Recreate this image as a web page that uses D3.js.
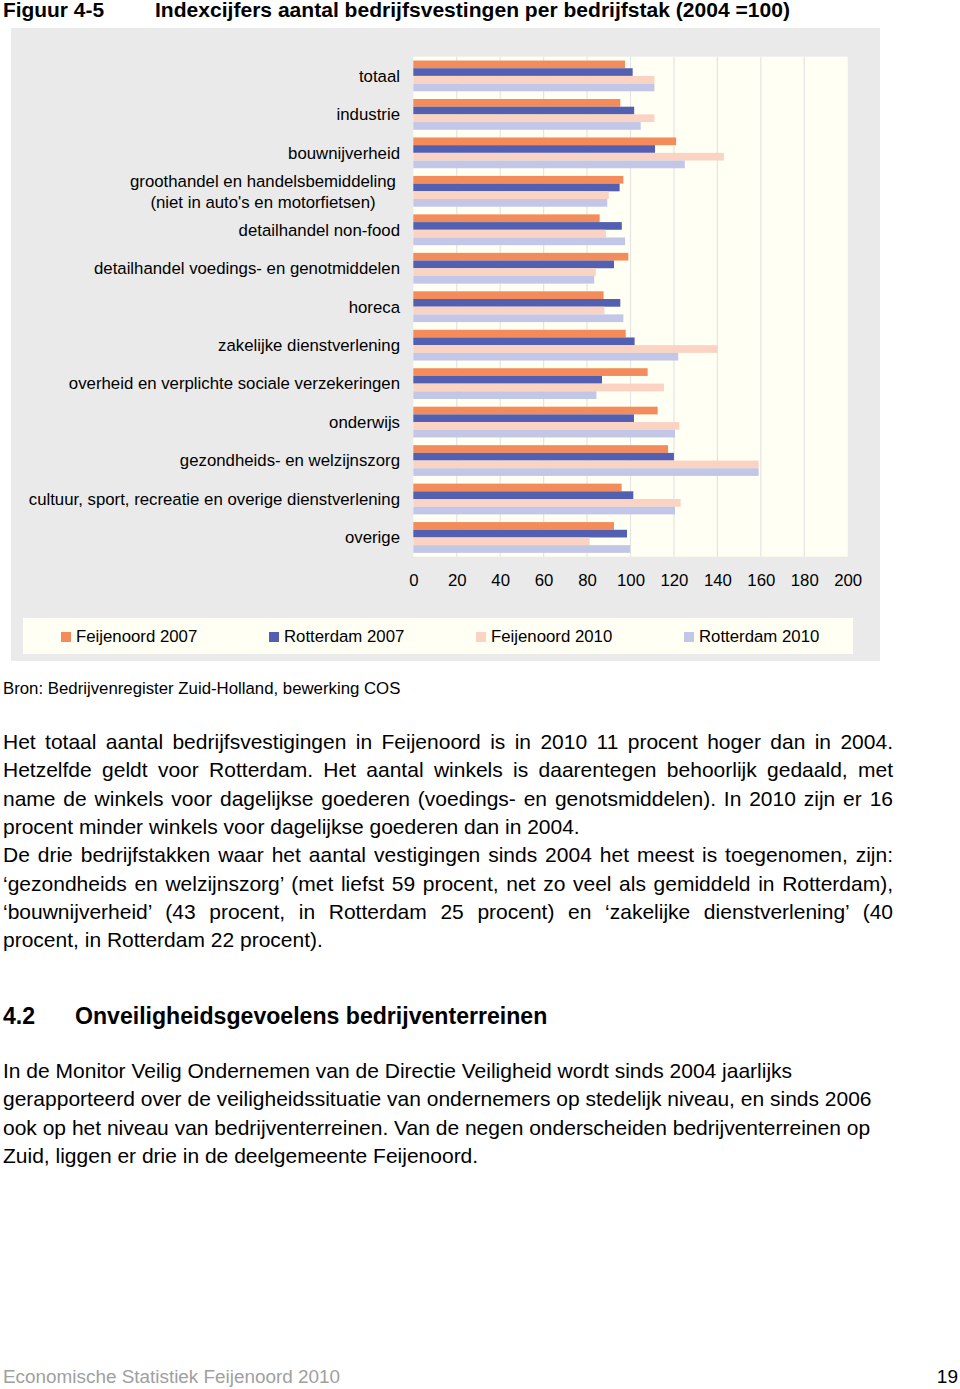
<!DOCTYPE html>
<html><head><meta charset="utf-8">
<script src="https://cdn.jsdelivr.net/npm/d3@7"></script>
<style>
html,body{margin:0;padding:0;background:#fff;}
svg{display:block;font-family:"Liberation Sans",Arial,Helvetica,sans-serif;}
</style></head>
<body><svg id="c" width="960" height="1389"></svg>
<script>
// ---------- data ----------
const categories = [
  "totaal",
  "industrie",
  "bouwnijverheid",
  "groothandel en handelsbemiddeling|(niet in auto's en motorfietsen)",
  "detailhandel non-food",
  "detailhandel voedings- en genotmiddelen",
  "horeca",
  "zakelijke dienstverlening",
  "overheid en verplichte sociale verzekeringen",
  "onderwijs",
  "gezondheids- en welzijnszorg",
  "cultuur, sport, recreatie en overige dienstverlening",
  "overige"
];
const seriesNames = ["Feijenoord 2007","Rotterdam 2007","Feijenoord 2010","Rotterdam 2010"];
const feijenoord2007 = [97.5, 95.3, 121, 96.7, 85.8, 99, 87.6, 97.8, 107.9, 112.5, 117.3, 95.9, 92.4];
const rotterdam2007  = [101, 101.7, 111.3, 95, 96, 92.4, 95.3, 101.9, 86.9, 101.6, 120, 101.3, 98.4];
const feijenoord2010 = [111, 111, 143, 90, 88.7, 84, 88, 140, 115.4, 122.5, 159, 123.1, 81.2];
const rotterdam2010  = [111, 104.7, 125, 89.3, 97.5, 83.3, 96.7, 122, 84.3, 120.5, 159, 120.5, 99.8];
const xTicks = [0,20,40,60,80,100,120,140,160,180,200];

const titleLeft = "Figuur 4-5";
const titleRight = "Indexcijfers aantal bedrijfsvestingen per bedrijfstak (2004 =100)";
const sourceText = "Bron: Bedrijvenregister Zuid-Holland, bewerking COS";
const para1 = [
  ["Het totaal aantal bedrijfsvestigingen in Feijenoord is in 2010 11 procent hoger dan in 2004.", true],
  ["Hetzelfde geldt voor Rotterdam. Het aantal winkels is daarentegen behoorlijk gedaald, met", true],
  ["name de winkels voor dagelijkse goederen (voedings- en genotsmiddelen). In 2010 zijn er 16", true],
  ["procent minder winkels voor dagelijkse goederen dan in 2004.", false],
  ["De drie bedrijfstakken waar het aantal vestigingen sinds 2004 het meest is toegenomen, zijn:", true],
  ["\u2018gezondheids en welzijnszorg\u2019 (met liefst 59 procent, net zo veel als gemiddeld in Rotterdam),", true],
  ["\u2018bouwnijverheid\u2019 (43 procent, in Rotterdam 25 procent) en \u2018zakelijke dienstverlening\u2019 (40", true],
  ["procent, in Rotterdam 22 procent).", false]
];
const headingNum = "4.2";
const headingText = "Onveiligheidsgevoelens bedrijventerreinen";
const para2 = [
  "In de Monitor Veilig Ondernemen van de Directie Veiligheid wordt sinds 2004 jaarlijks",
  "gerapporteerd over de veiligheidssituatie van ondernemers op stedelijk niveau, en sinds 2006",
  "ook op het niveau van bedrijventerreinen. Van de negen onderscheiden bedrijventerreinen op",
  "Zuid, liggen er drie in de deelgemeente Feijenoord."
];
const footerLeft = "Economische Statistiek Feijenoord 2010";
const footerRight = "19";

// ---------- styling ----------
const colors = ["#F38B5B","#5360B1","#FAD3C3","#C2C6E7"];
const chartFs = 16.8;
const svg = d3.select("#c");
svg.append("rect").attr("width",960).attr("height",1389).attr("fill","#fff");

// title
svg.append("text").attr("x",3).attr("y",17).attr("font-weight","bold").attr("font-size",20)
  .attr("textLength",101).attr("lengthAdjust","spacingAndGlyphs").text(titleLeft);
svg.append("text").attr("x",155).attr("y",17).attr("font-weight","bold").attr("font-size",20)
  .attr("textLength",635).attr("lengthAdjust","spacingAndGlyphs").text(titleRight);

// chart frame
svg.append("rect").attr("x",11).attr("y",28).attr("width",869).attr("height",633).attr("fill","#EAEAEA");

const plot = {left:413.3, right:847.7, top:56.7, bottom:556.7};
svg.append("rect").attr("x",plot.left).attr("y",plot.top)
  .attr("width",plot.right-plot.left).attr("height",plot.bottom-plot.top).attr("fill","#FFFFF3");

const x = d3.scaleLinear().domain([0,200]).range([plot.left, plot.right]);
const y0 = d3.scaleBand().domain(categories).range([plot.top, plot.bottom]).paddingInner(0.2).paddingOuter(0.1);
const y1 = d3.scaleBand().domain(seriesNames).range([0, y0.bandwidth()]);

// gridlines
svg.append("g").selectAll("line").data(xTicks.slice(1,-1)).join("line")
  .attr("x1",d=>x(d)).attr("x2",d=>x(d)).attr("y1",plot.top).attr("y2",plot.bottom)
  .attr("stroke","#E4E4E4").attr("stroke-width",1.2);

// bars
const seriesVals = [feijenoord2007, rotterdam2007, feijenoord2010, rotterdam2010];
const rows = [];
categories.forEach((c,i)=>seriesNames.forEach((s,j)=>rows.push({c,s,j,v:seriesVals[j][i]})));
svg.append("g").selectAll("rect").data(rows).join("rect")
  .attr("x",x(0)).attr("y",d=>y0(d.c)+y1(d.s))
  .attr("width",d=>x(d.v)-x(0)).attr("height",y1.bandwidth())
  .attr("fill",d=>colors[d.j]);

// x axis labels
const xAxis = d3.axisBottom(x).tickValues(xTicks).tickSize(0).tickPadding(0);
const gx = svg.append("g").attr("transform",`translate(0,${plot.bottom+29})`).call(xAxis);
gx.select(".domain").remove();
gx.selectAll("text").attr("font-size",chartFs).attr("font-family","Liberation Sans, Arial, sans-serif").attr("fill","#000").attr("y",0).attr("dy","0");

// category labels
const gl = svg.append("g").attr("font-size",chartFs).attr("fill","#000");
categories.forEach(c=>{
  const cy = y0(c)+y0.bandwidth()/2;
  const parts = c.split("|");
  if(parts.length===1){
    gl.append("text").attr("x",400).attr("y",cy+5.8).attr("text-anchor","end").text(c);
  } else {
    parts.forEach((p,k)=>{
      gl.append("text").attr("x",263).attr("y",cy-10.5+k*21+5.8).attr("text-anchor","middle").text(p);
    });
  }
});

// legend
svg.append("rect").attr("x",23).attr("y",618).attr("width",830).attr("height",36).attr("fill","#FFFFF3");
const legX = [61,269,476,684];
seriesNames.forEach((s,j)=>{
  svg.append("rect").attr("x",legX[j]).attr("y",632).attr("width",10).attr("height",10).attr("fill",colors[j]);
  svg.append("text").attr("x",legX[j]+15).attr("y",642).attr("font-size",chartFs).text(s);
});

// source
svg.append("text").attr("x",3).attr("y",694).attr("font-size",16.8).text(sourceText);

// paragraph 1 (justified)
const fs = 21;
para1.forEach(([line,just],i)=>{
  const t = svg.append("text").attr("x",3).attr("y",749+i*28.3).attr("font-size",fs).text(line);
  if(just){
    const w = t.node().getComputedTextLength();
    const spaces = (line.match(/ /g)||[]).length;
    t.attr("word-spacing",(893-3-w)/spaces);
  }
});

// heading
svg.append("text").attr("x",3).attr("y",1024).attr("font-size",23.1).attr("font-weight","bold").text(headingNum);
svg.append("text").attr("x",75).attr("y",1024).attr("font-size",23.1).attr("font-weight","bold").text(headingText);

// paragraph 2
para2.forEach((line,i)=>{
  svg.append("text").attr("x",3).attr("y",1078+i*28.3).attr("font-size",fs).text(line);
});

// footer
svg.append("text").attr("x",3).attr("y",1383).attr("font-size",18.9).attr("fill","#A0A0A0").text(footerLeft);
svg.append("text").attr("x",958).attr("y",1383).attr("font-size",19).attr("text-anchor","end").attr("fill","#000").text(footerRight);
</script>
</body></html>
